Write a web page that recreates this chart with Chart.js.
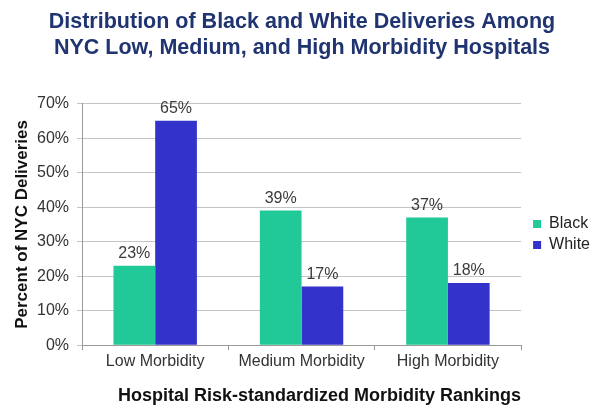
<!DOCTYPE html>
<html>
<head>
<meta charset="utf-8">
<script src="https://cdn.jsdelivr.net/npm/chart.js@4"></script>
<style>
  html, body { margin: 0; padding: 0; background: #fff; }
  #wrap { width: 604px; height: 414px; }
</style>
</head>
<body>
<div id="wrap"><canvas id="chart" width="604" height="414"></canvas></div>
<script>
var categories = ['Low Morbidity', 'Medium Morbidity', 'High Morbidity'];
var blackValues = [23, 39, 37];
var whiteValues = [65, 17, 18];
var yTicks = [0, 10, 20, 30, 40, 50, 60, 70];

var FONT = '"Liberation Sans", Arial, sans-serif';

// draws the "23%" style labels on top of each bar
var barLabels = {
  id: 'barLabels',
  afterDatasetsDraw: function (chart) {
    var ctx = chart.ctx;
    ctx.save();
    ctx.font = '16px ' + FONT;
    ctx.fillStyle = '#3a3a3a';
    ctx.textAlign = 'center';
    ctx.textBaseline = 'bottom';
    chart.data.datasets.forEach(function (ds, i) {
      chart.getDatasetMeta(i).data.forEach(function (bar, j) {
        ctx.fillText(ds.data[j] + '%', bar.x, bar.y - 4);
      });
    });
    ctx.restore();
  }
};

var ctx = document.getElementById('chart').getContext('2d');
var myChart = new Chart(ctx, {
  type: 'bar',
  data: {
    labels: categories,
    datasets: [{
      label: 'Black',
      backgroundColor: '#20C997',
      data: blackValues
    }, {
      label: 'White',
      backgroundColor: '#3333CC',
      data: whiteValues
    }]
  },
  options: {
    responsive: false,
    animation: false,
    layout: { padding: { left: 4, right: 4, top: 4, bottom: 5 } },
    datasets: { bar: { categoryPercentage: 0.57, barPercentage: 1.0 } },
    plugins: {
      title: {
        display: true,
        text: ['Distribution of Black and White Deliveries Among', 'NYC Low, Medium, and High Morbidity Hospitals'],
        color: '#1F3470',
        font: { family: FONT, size: 21.5, weight: 'bold', lineHeight: 1.2 },
        padding: { top: 5, bottom: 43 }
      },
      legend: {
        position: 'right',
        align: 'start',
        // empty title used as a spacer to push the items down
        title: { display: true, text: '', font: { size: 10, lineHeight: 1 }, padding: { top: 197, bottom: 0 } },
        labels: {
          boxWidth: 8,
          boxHeight: 8,
          padding: 5,
          color: '#222',
          font: { family: FONT, size: 16 }
        }
      },
      tooltip: { enabled: false }
    },
    scales: {
      x: {
        grid: { drawOnChartArea: false, offset: true, tickLength: 5, color: '#999' },
        border: { color: '#999' },
        ticks: {
          color: '#333',
          padding: 2,
          font: { family: FONT, size: 16 }
        },
        title: {
          display: true,
          align: 'end',
          text: 'Hospital Risk-standardized Morbidity Rankings',
          color: '#111',
          font: { family: FONT, size: 18, weight: 'bold' },
          padding: { top: 12, bottom: 2 }
        }
      },
      y: {
        min: yTicks[0],
        max: yTicks[yTicks.length - 1],
        afterBuildTicks: function (axis) {
          axis.ticks = yTicks.map(function (v) { return { value: v }; });
        },
        afterFit: function (scale) { scale.width = 78; },
        grid: { color: '#C4C4C4', tickLength: 5 },
        border: { color: '#999' },
        ticks: {
          color: '#333',
          padding: 8,
          font: { family: FONT, size: 16 },
          callback: function (v) { return v + '%'; }
        },
        title: {
          display: true,
          text: 'Percent of NYC Deliveries',
          color: '#111',
          font: { family: FONT, size: 17, weight: 'bold' },
          padding: { top: 8, bottom: 3 }
        }
      },
      // empty right axis, only keeps a gap between the plot and the legend
      gap: {
        position: 'right',
        grid: { display: false },
        border: { display: false },
        ticks: { display: false },
        afterFit: function (scale) { scale.width = 7; }
      }
    }
  },
  plugins: [barLabels]
});
</script>
</body>
</html>
